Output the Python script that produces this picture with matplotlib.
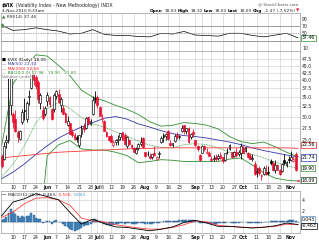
import numpy as np
import pandas as pd
import matplotlib
matplotlib.use('Agg')
import matplotlib.pyplot as plt
from matplotlib.text import Annotation
from matplotlib.ticker import FixedLocator, NullLocator, FuncFormatter

########## Data ##########

# trading days shown (May 3 - Nov 4 2010, exchange holidays removed)
holidays = ['2010-05-31', '2010-07-05', '2010-09-06']
days = pd.bdate_range('2010-05-03', '2010-11-04')
days = days[~days.isin(pd.to_datetime(holidays))]

prev_close = 22.05   # Apr 30 close, used for the colour of the first candle

opens = [22.0, 21.4, 24.5, 25.0, 33.0, 30.5, 29.5, 26.5, 25.2, 28.8,
         31.5, 29.5, 35.1, 37.5, 45.3, 41.0, 39.5, 33.5, 31.6, 30.5,
         34.0, 35.0, 31.9, 31.8, 35.3, 36.0, 32.9, 32.0, 30.8, 28.0,
         28.5, 26.5, 25.9, 25.6, 23.9, 26.1, 27.8, 27.4, 29.9, 28.3,
         30.5, 34.8, 35.0, 32.3, 29.5, 29.0, 26.5, 25.7, 25.8, 24.0,
         24.6, 24.9, 25.6, 26.5, 26.0, 23.7, 25.0, 24.0, 23.4, 22.4,
         23.3, 24.1, 25.4, 22.6, 22.3, 22.0, 21.8, 22.4, 21.5, 22.2,
         24.5, 26.0, 25.8, 26.7, 24.3, 24.0, 24.8, 26.0, 25.5, 26.7,
         28.0, 26.7, 27.5, 25.5, 26.6, 24.9, 23.8, 22.1, 22.5, 23.8,
         22.5, 22.5, 21.5, 21.4, 21.8, 21.6, 22.1, 21.7, 21.3, 22.7,
         23.2, 22.6, 22.0, 22.6, 22.2, 22.5, 23.4, 22.9, 22.4, 21.9,
         21.5, 20.6, 19.3, 20.0, 18.7, 19.0, 19.3, 19.3, 21.0, 20.8,
         19.6, 20.5, 19.6, 19.5, 21.3, 20.4, 21.4, 21.2, 21.1, 22.3,
         18.03]
highs = [22.3, 24.6, 26.0, 40.7, 42.2, 31.2, 31.5, 27.0, 27.0, 31.8,
         34.8, 34.0, 37.0, 46.4, 48.2, 41.8, 40.0, 36.3, 32.5, 32.5,
         36.6, 35.2, 32.0, 36.2, 37.0, 37.3, 35.0, 32.8, 31.0, 30.2,
         28.6, 27.2, 26.4, 25.9, 26.0, 28.0, 28.4, 29.9, 30.0, 29.4,
         35.4, 36.7, 35.6, 32.5, 30.5, 29.3, 26.8, 25.8, 26.2, 25.0,
         25.2, 25.9, 26.4, 26.6, 26.4, 25.8, 25.2, 24.1, 23.5, 23.5,
         24.3, 25.5, 25.6, 22.7, 22.8, 22.4, 22.3, 23.8, 21.9, 22.9,
         25.8, 26.3, 26.3, 26.9, 24.9, 24.4, 26.2, 26.6, 26.0, 28.0,
         28.0, 27.4, 27.7, 26.3, 27.2, 25.0, 23.9, 22.3, 23.9, 24.0,
         23.4, 22.8, 21.9, 22.1, 22.2, 22.2, 22.7, 21.8, 22.5, 23.3,
         24.1, 22.7, 22.8, 23.4, 23.0, 24.3, 23.8, 23.6, 22.6, 22.4,
         22.2, 21.0, 19.9, 20.3, 19.0, 20.3, 20.4, 20.2, 21.5, 21.0,
         21.2, 20.6, 19.8, 20.7, 22.2, 21.0, 22.0, 22.8, 22.0, 22.6,
         18.10]
lows = [19.9, 21.3, 23.4, 24.4, 30.3, 27.3, 26.6, 24.5, 24.9, 28.2,
        29.3, 28.8, 33.0, 37.3, 38.4, 37.4, 33.5, 31.9, 29.3, 30.1,
        32.5, 32.3, 29.2, 31.0, 34.6, 33.4, 31.0, 30.5, 28.6, 27.8,
        26.1, 25.6, 24.9, 24.6, 23.6, 25.5, 26.6, 27.2, 28.0, 28.1,
        30.4, 33.3, 32.2, 30.1, 28.8, 26.7, 25.6, 24.8, 24.5, 23.5,
        23.9, 24.0, 24.9, 24.9, 23.9, 23.4, 23.9, 23.2, 22.6, 22.3,
        23.0, 23.8, 23.3, 21.8, 21.9, 21.4, 21.5, 21.9, 21.3, 21.6,
        24.3, 24.6, 25.0, 25.0, 23.8, 23.6, 24.6, 25.2, 25.1, 26.5,
        26.2, 26.2, 24.4, 25.2, 25.6, 23.7, 22.8, 21.1, 22.4, 22.9,
        22.2, 21.9, 21.0, 21.0, 21.1, 21.2, 21.4, 20.8, 21.0, 22.3,
        23.0, 21.6, 21.8, 21.8, 21.9, 21.4, 22.4, 22.6, 21.6, 21.4,
        21.0, 18.9, 18.6, 18.9, 18.1, 18.9, 18.9, 18.9, 20.4, 19.5,
        19.1, 19.6, 18.9, 19.3, 20.4, 20.1, 20.8, 21.0, 20.9, 19.4,
        18.03]
closes = [20.2, 23.8, 24.9, 32.8, 41.0, 28.8, 26.7, 25.5, 26.7, 31.2,
          31.3, 33.5, 35.3, 45.8, 40.1, 38.3, 34.6, 35.6, 29.7, 32.1,
          35.5, 33.1, 29.5, 35.5, 36.9, 33.7, 34.5, 30.6, 28.8, 29.0,
          26.2, 25.9, 25.1, 25.2, 25.9, 27.5, 27.1, 29.7, 28.5, 29.0,
          34.1, 34.5, 32.9, 30.1, 29.7, 26.8, 25.7, 25.0, 24.6, 24.5,
          24.9, 25.1, 26.3, 25.0, 24.1, 25.6, 24.1, 23.5, 22.7, 23.2,
          24.2, 24.6, 23.5, 22.0, 22.3, 21.6, 22.2, 22.1, 21.7, 22.4,
          25.4, 25.5, 26.2, 25.2, 23.9, 24.3, 25.8, 25.5, 25.7, 27.5,
          26.7, 27.4, 24.5, 26.2, 26.1, 23.9, 23.2, 21.3, 23.8, 23.1,
          22.6, 22.0, 21.2, 21.6, 21.5, 22.0, 21.6, 21.1, 22.4, 22.6,
          23.9, 21.7, 22.7, 22.1, 22.6, 23.7, 22.5, 23.5, 21.8, 21.5,
          21.6, 19.0, 19.5, 19.1, 18.8, 19.9, 19.0, 19.1, 20.7, 19.6,
          20.5, 19.6, 19.0, 20.6, 20.7, 20.9, 21.2, 21.8, 21.4, 19.56,
          18.09]

# indicator lines, read every fifth trading day
line_days = list(range(0, 131, 5))
ma50 = [18.3, 19.3, 20.6, 22.2, 23.8, 25.3, 26.5, 27.6, 28.6, 29.6,
        30.0, 29.4, 28.3, 27.6, 26.8, 26.2, 25.8, 25.6, 25.3, 24.9,
        24.5, 24.0, 23.4, 22.9, 22.5, 22.1, 21.8]
ma200 = [21.6, 21.8, 22.0, 22.2, 22.4, 22.6, 22.7, 22.8, 22.9, 23.0,
         23.1, 23.2, 23.3, 23.3, 23.4, 23.4, 23.4, 23.4, 23.4, 23.4,
         23.4, 23.4, 23.4, 23.4, 23.4, 23.4, 23.3]
bb_up = [23.8, 39.0, 44.0, 49.0, 48.5, 45.0, 41.5, 37.0, 35.0, 34.0,
         32.8, 31.8, 30.5, 28.8, 27.8, 28.0, 28.6, 28.4, 28.0, 27.2,
         25.6, 24.6, 24.2, 24.5, 23.6, 22.6, 21.8]
bb_mid = [18.6, 20.5, 23.8, 28.5, 32.0, 33.5, 32.0, 29.8, 28.3, 27.6,
          26.6, 25.7, 24.7, 23.9, 23.5, 23.4, 24.0, 24.2, 24.0, 23.4,
          22.6, 22.4, 22.2, 21.6, 20.9, 20.3, 19.9]
bb_lo = [13.4, 4.0, 5.0, 9.0, 22.0, 24.0, 24.8, 23.2, 23.0, 23.0,
         22.6, 22.0, 20.8, 21.0, 21.3, 21.2, 21.0, 21.0, 21.0, 21.0,
         21.4, 21.6, 20.4, 19.2, 18.4, 18.1, 17.98]
rsi = [72, 58, 60, 65, 60, 56, 48, 50, 60, 47,
       44, 44, 41, 40, 50, 48, 55, 45, 44, 42,
       50, 50, 44, 40, 45, 50, 37.46]
macd = [1.1, 3.6, 4.2, 5.1, 4.6, 4.0, 1.7, -0.4, 0.5, -0.3,
        -0.9, -1.0, -1.3, -1.6, -1.3, -0.9, -0.1, 0.3, -0.2, -0.8,
        -0.8, -0.95, -1.1, -0.95, -0.7, -0.2, -0.463]
signal = [0.8, 1.8, 3.3, 4.3, 4.4, 4.0, 3.0, 0.7, 0.2, 0.0,
          -0.5, -0.8, -1.1, -1.3, -1.3, -1.0, -0.5, 0.2, 0.0, -0.6,
          -0.8, -0.95, -1.0, -0.95, -0.8, -0.4, -0.506]
# daily histogram
hist = [0.3, 0.6, 0.9, 1.6, 2.3, 1.8, 1.4, 1.0, 0.8, 1.0,
        0.9, 1.0, 1.0, 1.6, 1.3, 0.8, 0.5, 0.5, -0.1, 0.0,
        0.2, 0.1, -0.3, 0.1, 0.3, 0.0, 0.0, -0.4, -0.8, -0.9,
        -1.3, -1.5, -1.6, -1.5, -1.3, -1.1, -0.8, -0.5, -0.5, -0.4,
        0.3, 0.5, 0.4, 0.2, 0.0, -0.3, -0.5, -0.6, -0.6, -0.5,
        -0.4, -0.3, -0.2, -0.2, -0.3, -0.2, -0.2, -0.3, -0.3, -0.3,
        -0.2, -0.1, -0.2, -0.3, -0.3, -0.3, -0.3, -0.2, -0.2, -0.2,
        0.0, 0.1, 0.2, 0.2, 0.1, 0.1, 0.2, 0.2, 0.3, 0.4,
        0.4, 0.4, 0.3, 0.3, 0.3, 0.1, 0.0, -0.2, -0.1, -0.1,
        -0.2, -0.2, -0.3, -0.3, -0.3, -0.2, -0.2, -0.2, -0.1, 0.0,
        0.0, -0.1, -0.1, -0.1, -0.1, 0.0, 0.0, 0.0, -0.1, -0.1,
        -0.1, -0.2, -0.1, -0.1, -0.1, 0.0, 0.0, 0.0, 0.1, 0.1,
        0.1, 0.1, 0.1, 0.2, 0.2, 0.2, 0.3, 0.3, 0.3, 0.2,
        0.043]

tick_dates = ['2010-05-10', '2010-05-17', '2010-05-24', '2010-06-01', '2010-06-07',
              '2010-06-14', '2010-06-21', '2010-06-28', '2010-07-01', '2010-07-06',
              '2010-07-12', '2010-07-19', '2010-07-26', '2010-08-02', '2010-08-09',
              '2010-08-16', '2010-08-23', '2010-09-01', '2010-09-07', '2010-09-13',
              '2010-09-20', '2010-09-27', '2010-10-01', '2010-10-11', '2010-10-18',
              '2010-10-25', '2010-11-01']
tick_labels = ['10', '17', '24', 'Jun', '7', '14', '21', '28', 'Jul', '6', '12', '19', '26',
               'Aug', '9', '16', '23', 'Sep', '7', '13', '20', '27', 'Oct', '11', '18', '25', 'Nov']
months = ['Jun', 'Jul', 'Aug', 'Sep', 'Oct', 'Nov']

price_ticks = [25.0, 27.5, 30.0, 32.5, 35.0, 37.5, 40.0, 42.5, 45.0, 47.5]
rsi_ticks = [10, 50, 70, 90]
macd_ticks = [2, 4]

########## Figure ##########

W, H = 319., 242.
fig = plt.figure(figsize=(W / 100, H / 100), dpi=100)

def px_box(l, t, r, b):
    return [l / W, 1 - b / H, (r - l) / W, (b - t) / H]

ax_rsi = fig.add_axes(px_box(0.5, 13, 300, 51))
ax = fig.add_axes(px_box(0.5, 51, 300, 183), sharex=ax_rsi)
ax_macd = fig.add_axes(px_box(0.5, 191, 300, 233), sharex=ax_rsi)

x = np.arange(len(days))
tick_pos = [days.get_loc(pd.Timestamp(d)) for d in tick_dates]

RED = '#e8102e'
GREEN = '#2f8f2f'
BLUE = '#3535a8'
GRID = '#cfcfcf'
FS = 3.3

for a in (ax_rsi, ax, ax_macd):
    for s in a.spines.values():
        s.set_color('#9a9a9a')
        s.set_linewidth(0.5)
    a.yaxis.tick_right()
    a.tick_params(length=0, labelsize=FS, pad=1.5, colors='#222222')
    a.grid(True, color=GRID, lw=0.45)
    a.set_axisbelow(True)

ax_rsi.set_xlim(-0.5, 130.9)
ax_rsi.set_xticks(tick_pos)
ax_rsi.set_xticklabels(tick_labels)
ax_rsi.tick_params(labelbottom=False)
for a in (ax, ax_macd):
    a.tick_params(axis='x', labelbottom=True, pad=1.2)
    for t in a.get_xticklabels():
        if t.get_text() in months:
            t.set_fontweight('bold')

# ---------- price panel ----------
o = np.array(opens); h = np.array(highs); l = np.array(lows); c = np.array(closes)
prev = np.r_[prev_close, c[:-1]]
col = np.where(c < prev, RED, 'black')
face = np.where(c < o, col, 'white')

ax.vlines(x, l, h, colors=col, lw=0.6, zorder=3)
ax.bar(x, np.maximum(np.abs(c - o), 0.02), bottom=np.minimum(o, c), width=0.8,
       color=face, edgecolor=col, linewidth=0.45, zorder=4)

ax.plot(line_days, bb_up, color=GREEN, lw=0.6, zorder=2)
ax.plot(line_days, bb_lo, color=GREEN, lw=0.6, zorder=2)
ax.plot(line_days, bb_mid, color='#3f9f3f', lw=0.55, ls=(0, (1.2, 0.9)), zorder=2)
ax.plot(line_days, ma50, color=BLUE, lw=0.6, zorder=2)
ax.plot(line_days, ma200, color='#ff3535', lw=0.6, zorder=2)

ax.set_yscale('log')
ax.set_ylim(17.7, 50.5)
ax.yaxis.set_major_locator(FixedLocator(price_ticks))
ax.yaxis.set_minor_locator(NullLocator())
ax.yaxis.set_major_formatter(FuncFormatter(lambda v, p: '%.1f' % v))

# legend of price panel
leg = [('■ $VIX (Daily) 18.09', 'black'),
       ('— MA(50) 21.74', BLUE),
       ('— MA(200) 22.56', '#ff2020'),
       ('— BB(20,2.0) 17.98 - 19.90 - 21.81', GREEN),
       ('Volume undef', '#777777')]
for i, (txt, cl) in enumerate(leg):
    ax.text(1.5 / 299.5, 1 - (9 + 4.3 * i) / 132., txt, transform=ax.transAxes,
            fontsize=3.1, color=cl, va='center', ha='left', zorder=6,
            bbox=dict(boxstyle='square,pad=0.05', fc='white', ec='none', alpha=0.85))

def value_box(a, value, text, color, dy=0.0, fs=FS):
    a.annotate(text, xy=(1.0, value), xycoords=('axes fraction', 'data'),
               xytext=(1.2, dy), textcoords='offset points', fontsize=fs,
               va='center', ha='left', annotation_clip=False, zorder=7,
               bbox=dict(boxstyle='square,pad=0.15', fc='white', ec=color, lw=0.5))

value_box(ax, ma200[-1], '22.56', '#ff2020', dy=2.5)
value_box(ax, ma50[-1], '21.74', BLUE, dy=-0.5)
value_box(ax, bb_mid[-1], '19.90', GREEN)
value_box(ax, closes[-1], '18.09', '#1d4d1d')

# ---------- RSI panel ----------
ax_rsi.plot(line_days, rsi, color='black', lw=0.5)
ax_rsi.plot(line_days[0], rsi[0], marker='^', ms=2.2, color=GREEN)
ax_rsi.axhline(70, color='#8a8a8a', lw=0.6)
ax_rsi.axhline(30, color='#8a8a8a', lw=0.6)
ax_rsi.axhline(50, color='#8a8a8a', lw=0.5, ls=(0, (2, 1.5)))
ax_rsi.set_ylim(1, 106)
ax_rsi.yaxis.set_major_locator(FixedLocator(rsi_ticks))
ax_rsi.grid(False, axis='y')
value_box(ax_rsi, rsi[-1], '37.46', GREEN)

# ---------- MACD panel ----------
ax_macd.bar(x, hist, width=0.85, color='#4a90c8', edgecolor='#1f4f80', linewidth=0.3, zorder=2)
ax_macd.plot(line_days, signal, color='#ff4040', lw=0.6, zorder=3)
ax_macd.plot(line_days, macd, color='black', lw=0.6, zorder=4)
ax_macd.set_ylim(-2.0, 5.6)
ax_macd.yaxis.set_major_locator(FixedLocator(macd_ticks))
ax_macd.axhline(0, color=GRID, lw=0.45, zorder=1)
value_box(ax_macd, hist[-1], '0.043', '#4a90c8', dy=1.5)
value_box(ax_macd, macd[-1], '-0.463', 'black', dy=-1.0)

########## Header texts ##########

def chain(parts, x0, y0, fs=FS):
    # pieces written one after another on one baseline
    txt, cl, wt = parts[0]
    t = fig.text(x0 / W, 1 - y0 / H, txt, fontsize=fs, color=cl, fontweight=wt,
                 va='baseline', ha='left')
    for txt, cl, wt in parts[1:]:
        t = fig.add_artist(Annotation(txt, xy=(1, 0), xycoords=t, xytext=(1.0, 0),
                                      textcoords='offset points', fontsize=fs, color=cl,
                                      fontweight=wt, va='bottom', ha='left'))
    return t

chain([('$VIX', 'black', 'bold'),
       ('(Volatility Index - New Methodology) INDX', '#222222', 'normal')], 2, 6.5)
fig.text(2 / W, 1 - 12 / H, '4-Nov-2010 9:33am', fontsize=3.1, color='#222222', va='baseline')
fig.text(298 / W, 1 - 5.5 / H, '@ StockCharts.com', fontsize=3.0, color='#555555',
         va='baseline', ha='right')
chain([('Open', 'black', 'bold'), ('18.03', '#222222', 'normal'),
       ('High', 'black', 'bold'), ('18.10', '#222222', 'normal'),
       ('Low', 'black', 'bold'), ('18.03', '#222222', 'normal'),
       ('Last', 'black', 'bold'), ('18.09', '#222222', 'normal'),
       ('Chg', 'black', 'bold'), ('-1.47 (-7.52%)', '#222222', 'normal'),
       ('▼', RED, 'normal')], 150, 12, fs=3.1)
chain([('▲', '#2f6f2f', 'normal'), ('RSI(14) 37.46', '#222222', 'normal')], 2, 18.5, fs=3.1)
chain([('—', 'black', 'bold'), ('MACD(12,26,9) -0.463,', '#222222', 'normal'),
       ('-0.506,', '#ff3030', 'normal'), ('0.043', '#4a90c8', 'normal')], 2, 195.5, fs=3.1)

fig.savefig('out.png', dpi=100, facecolor='white')
